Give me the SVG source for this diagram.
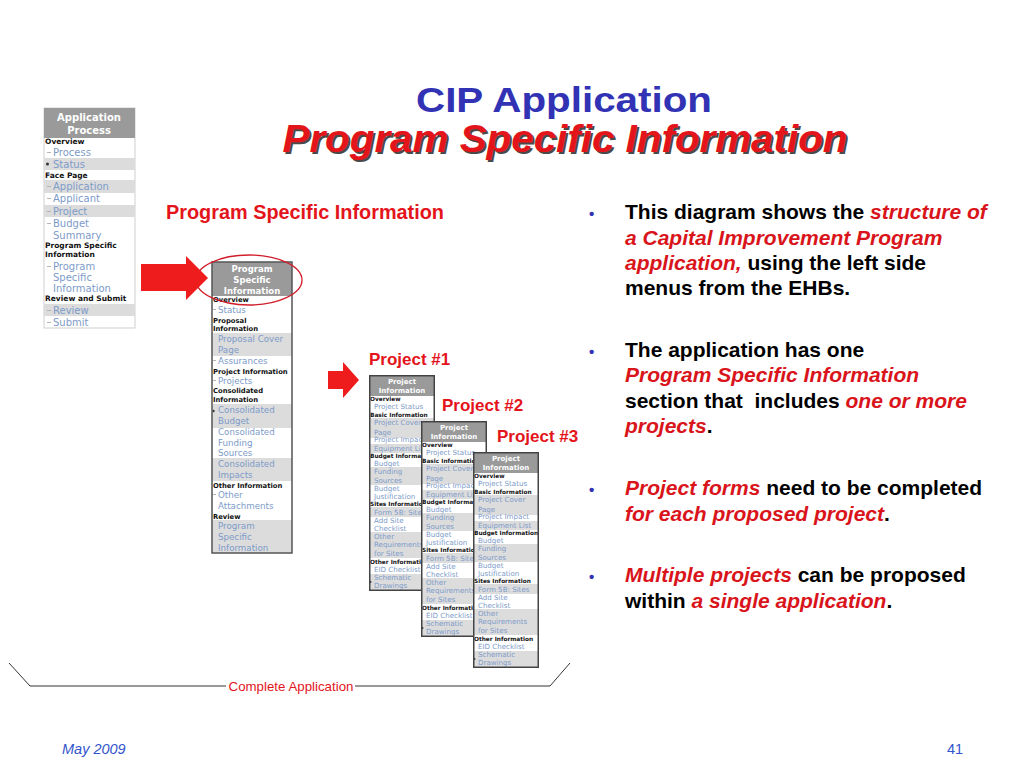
<svg xmlns="http://www.w3.org/2000/svg" xmlns:xlink="http://www.w3.org/1999/xlink" width="1024" height="768" viewBox="0 0 1024 768">
<style>
.hd{font-family:"DejaVu Sans",Verdana,sans-serif;font-weight:bold;fill:#fff;text-anchor:middle}
.it{font-family:"DejaVu Sans",Verdana,sans-serif;fill:#7d9bc9}
.sec{font-family:"DejaVu Sans",Verdana,sans-serif;font-weight:bold;fill:#111}
.gb{fill:#dcdcdc}
.hb{fill:#9a9a9a}
.dash{stroke:#b5b5b5;stroke-width:1}
.lbl{font-family:"Liberation Sans",Arial,sans-serif;font-weight:bold;fill:#e4141b}
.bt{font-family:"Liberation Sans",Arial,sans-serif;font-weight:bold;font-size:21px;fill:#000}
.ri{fill:#d9141b;font-style:italic}
.arrow{fill:#ee1c1c}
</style>
<defs>
<symbol id="projmenu" viewBox="0 0 66 216" width="66" height="216">
<rect x="0" y="0" width="66" height="216" fill="#fff"/>
<rect class="hb" x="0" y="0" width="66" height="21"/>
<text class="hd" x="33" y="9" font-size="7">Project</text>
<text class="hd" x="33" y="18" font-size="7">Information</text>
<g class="sec" font-size="5.8">
<text x="1" y="25.5">Overview</text>
<text x="1" y="41.5">Basic Information</text>
<text x="1" y="82.5">Budget Information</text>
<text x="1" y="130.5">Sites Information</text>
<text x="1" y="188.5">Other Information</text>
</g>
<rect class="gb" x="0" y="43" width="66" height="20"/>
<rect class="gb" x="0" y="69" width="66" height="9"/>
<rect class="gb" x="0" y="92" width="66" height="18"/>
<rect class="gb" x="0" y="132" width="66" height="10"/>
<rect class="gb" x="0" y="157" width="66" height="26"/>
<rect class="gb" x="0" y="199" width="66" height="17"/>
<g class="it" font-size="7.1">
<text x="5" y="34">Project Status</text>
<text x="5" y="50">Project Cover</text>
<text x="5" y="60">Page</text>
<text x="5" y="67">Project Impact</text>
<text x="5" y="76">Equipment List</text>
<text x="5" y="91">Budget</text>
<text x="5" y="99">Funding</text>
<text x="5" y="108">Sources</text>
<text x="5" y="116">Budget</text>
<text x="5" y="124">Justification</text>
<text x="5" y="140">Form 5B: Sites</text>
<text x="5" y="148">Add Site</text>
<text x="5" y="156">Checklist</text>
<text x="5" y="164">Other</text>
<text x="5" y="172">Requirements</text>
<text x="5" y="181">for Sites</text>
<text x="5" y="197">EID Checklist</text>
<text x="5" y="205">Schematic</text>
<text x="5" y="213">Drawings</text>
</g>
<circle cx="1.5" cy="207" r="1" fill="#333"/>
<rect x="0.75" y="0.75" width="64.5" height="214.5" fill="none" stroke="#444" stroke-width="1.5"/>
</symbol>
</defs>
<rect width="1024" height="768" fill="#fff"/>

<!-- Title -->
<g id="title">
<text x="564" y="112" text-anchor="middle" font-family="Liberation Sans,Arial,sans-serif" font-weight="bold" font-size="35" textLength="296" lengthAdjust="spacingAndGlyphs" fill="#3232b4">CIP Application</text>
<text x="567" y="154" text-anchor="middle" font-family="Liberation Sans,Arial,sans-serif" font-weight="bold" font-style="italic" font-size="38" textLength="565" lengthAdjust="spacingAndGlyphs" fill="#4a4a4a">Program Specific Information</text>
<text x="565" y="152" text-anchor="middle" font-family="Liberation Sans,Arial,sans-serif" font-weight="bold" font-style="italic" font-size="38" textLength="565" lengthAdjust="spacingAndGlyphs" fill="#e4141b">Program Specific Information</text>
</g>

<!-- Left menu: Application Process -->
<g id="menu-application-process">
<rect x="44" y="108" width="91" height="220" fill="#fff" stroke="#cfcfcf" stroke-width="1"/>
<rect class="hb" x="44" y="108" width="91" height="30"/>
<text class="hd" x="89" y="121" font-size="10">Application</text>
<text class="hd" x="89" y="134" font-size="10">Process</text>
<rect class="gb" x="44" y="158" width="91" height="12"/>
<rect class="gb" x="44" y="180" width="91" height="13"/>
<rect class="gb" x="44" y="205" width="91" height="12"/>
<rect class="gb" x="44" y="304" width="91" height="12"/>
<g class="sec" font-size="7.5">
<text x="45" y="144">Overview</text>
<text x="45" y="178">Face Page</text>
<text x="45" y="248">Program Specific</text>
<text x="45" y="257">Information</text>
<text x="45" y="301">Review and Submit</text>
</g>
<g class="dash">
<line x1="47" y1="152.5" x2="51" y2="152.5"/>
<line x1="47" y1="186.5" x2="51" y2="186.5"/>
<line x1="47" y1="198.5" x2="51" y2="198.5"/>
<line x1="47" y1="211.5" x2="51" y2="211.5"/>
<line x1="47" y1="223.5" x2="51" y2="223.5"/>
<line x1="47" y1="266.5" x2="51" y2="266.5"/>
<line x1="47" y1="310.5" x2="51" y2="310.5"/>
<line x1="47" y1="322.5" x2="51" y2="322.5"/>
</g>
<g class="it" font-size="10">
<text x="53" y="156">Process</text>
<text x="53" y="168">Status</text>
<text x="53" y="190">Application</text>
<text x="53" y="202">Applicant</text>
<text x="53" y="215">Project</text>
<text x="53" y="227">Budget</text>
<text x="53" y="239">Summary</text>
<text x="53" y="270">Program</text>
<text x="53" y="281">Specific</text>
<text x="53" y="292">Information</text>
<text x="53" y="314">Review</text>
<text x="53" y="326">Submit</text>
</g>
<circle cx="47.5" cy="164" r="1.5" fill="#333"/>
</g>

<!-- Middle menu: Program Specific Information -->
<g id="menu-program-specific">
<rect x="212" y="262" width="80" height="291" fill="#fff"/>
<rect class="hb" x="212" y="262" width="80" height="34"/>
<text class="hd" x="252" y="272" font-size="8.5">Program</text>
<text class="hd" x="252" y="283" font-size="8.5">Specific</text>
<text class="hd" x="252" y="294" font-size="8.5">Information</text>
<rect class="gb" x="212" y="333" width="80" height="23"/>
<rect class="gb" x="212" y="404" width="80" height="24"/>
<rect class="gb" x="212" y="458" width="80" height="23"/>
<rect class="gb" x="212" y="520" width="80" height="33"/>
<g class="sec" font-size="6.8">
<text x="213" y="302">Overview</text>
<text x="213" y="323">Proposal</text>
<text x="213" y="331">Information</text>
<text x="213" y="374">Project Information</text>
<text x="213" y="393">Consolidated</text>
<text x="213" y="402">Information</text>
<text x="213" y="488">Other Information</text>
<text x="213" y="519">Review</text>
</g>
<g class="dash">
<line x1="213" y1="309.5" x2="216" y2="309.5"/>
<line x1="213" y1="360.5" x2="216" y2="360.5"/>
<line x1="213" y1="380.5" x2="216" y2="380.5"/>
<line x1="213" y1="494.5" x2="216" y2="494.5"/>
</g>
<g class="it" font-size="8.7">
<text x="218" y="313">Status</text>
<text x="218" y="342">Proposal Cover</text>
<text x="218" y="353">Page</text>
<text x="218" y="364">Assurances</text>
<text x="218" y="384">Projects</text>
<text x="218" y="413">Consolidated</text>
<text x="218" y="424">Budget</text>
<text x="218" y="435">Consolidated</text>
<text x="218" y="446">Funding</text>
<text x="218" y="456">Sources</text>
<text x="218" y="467">Consolidated</text>
<text x="218" y="478">Impacts</text>
<text x="218" y="498">Other</text>
<text x="218" y="509">Attachments</text>
<text x="218" y="529">Program</text>
<text x="218" y="540">Specific</text>
<text x="218" y="551">Information</text>
</g>
<circle cx="213.5" cy="411" r="1.2" fill="#333"/>
<rect x="212" y="262" width="80" height="291" fill="none" stroke="#555" stroke-width="1.5"/>
<ellipse cx="249" cy="280" rx="53" ry="25" fill="none" stroke="#d11d2a" stroke-width="1.3"/>
</g>

<!-- Project menus -->
<g id="project-1"><use xlink:href="#projmenu" x="369" y="375"/></g>
<g id="project-2"><use xlink:href="#projmenu" x="421" y="421"/></g>
<g id="project-3"><use xlink:href="#projmenu" x="473" y="452"/></g>

<!-- Labels -->
<g id="labels">
<text class="lbl" x="166" y="219" font-size="20" textLength="278" lengthAdjust="spacingAndGlyphs">Program Specific Information</text>
<text class="lbl" x="369" y="365" font-size="17">Project #1</text>
<text class="lbl" x="442" y="411" font-size="17">Project #2</text>
<text class="lbl" x="497" y="442" font-size="17">Project #3</text>
</g>

<!-- Connectors: arrows and bracket -->
<g id="connectors">
<polygon class="arrow" points="141,264 186,264 186,256 208,278 186,300 186,291 141,291"/>
<polygon class="arrow" points="328,371 343,371 343,362 359,380 343,398 343,389 328,389"/>
<polyline points="9,663 30,686 226,686" fill="none" stroke="#333" stroke-width="1"/>
<polyline points="355,686 550,686 570,663" fill="none" stroke="#333" stroke-width="1"/>
<text x="291" y="691" text-anchor="middle" font-family="Liberation Sans,Arial,sans-serif" font-size="13.3" fill="#e4141b">Complete Application</text>
</g>

<!-- Bullets -->
<g id="bullets" class="bt">
<text x="589" y="219" font-size="15" fill="#3232b4">•</text>
<text x="589" y="357" font-size="15" fill="#3232b4">•</text>
<text x="589" y="495" font-size="15" fill="#3232b4">•</text>
<text x="589" y="582" font-size="15" fill="#3232b4">•</text>
<text x="625" y="219">This diagram shows the <tspan class="ri">structure of</tspan></text>
<text x="625" y="245" class="bt ri">a Capital Improvement Program</text>
<text x="625" y="270"><tspan class="ri">application,</tspan> using the left side</text>
<text x="625" y="295">menus from the EHBs.</text>
<text x="625" y="357">The application has one</text>
<text x="625" y="382" class="bt ri">Program Specific Information</text>
<text x="625" y="408" xml:space="preserve">section that  includes <tspan class="ri">one or more</tspan></text>
<text x="625" y="433"><tspan class="ri">projects</tspan>.</text>
<text x="625" y="495"><tspan class="ri">Project forms</tspan> need to be completed</text>
<text x="625" y="521"><tspan class="ri">for each proposed project</tspan>.</text>
<text x="625" y="582"><tspan class="ri">Multiple projects</tspan> can be proposed</text>
<text x="625" y="608">within <tspan class="ri">a single application</tspan>.</text>
</g>

<!-- Footer -->
<g id="footer">
<text x="62" y="754" font-family="Liberation Sans,Arial,sans-serif" font-style="italic" font-size="14.5" fill="#3355cc">May 2009</text>
<text x="947" y="754" font-family="Liberation Sans,Arial,sans-serif" font-size="14.5" fill="#3355cc">41</text>
</g>
</svg>
